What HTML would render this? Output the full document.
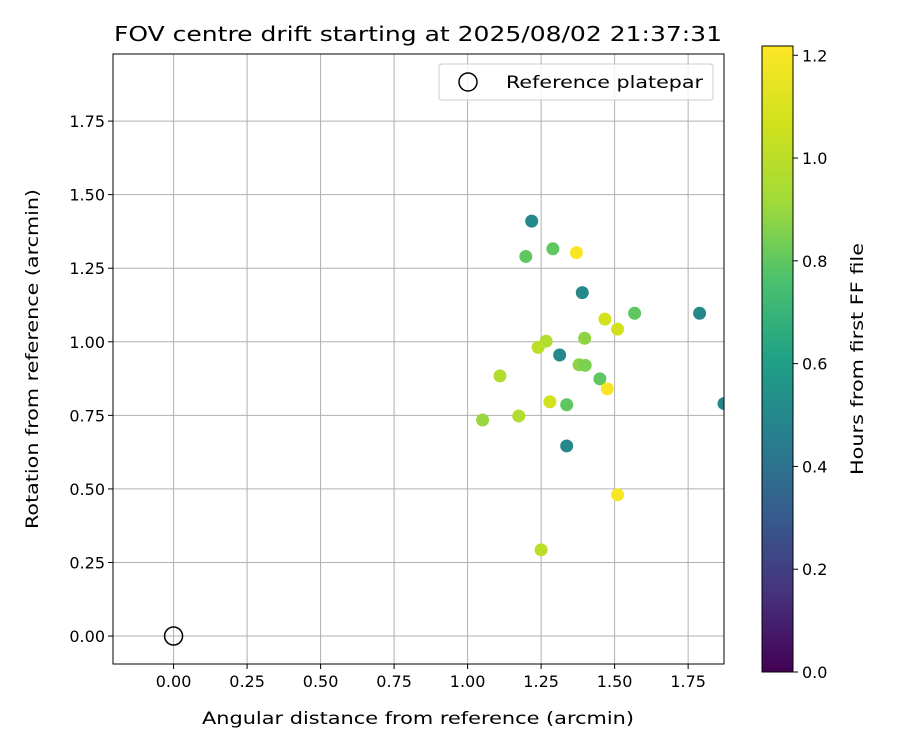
<!DOCTYPE html>
<html><head><meta charset="utf-8"><style>
body{margin:0;background:#fff;font-family:"DejaVu Sans","Liberation Sans",sans-serif;}
svg text{font-family:"DejaVu Sans","Liberation Sans",sans-serif;fill:#000;}
</style></head><body>
<svg id="chart" width="900" height="750" xmlns="http://www.w3.org/2000/svg">
<rect width="900" height="750" fill="#fff"/>
<text x="418" y="41" style="font-size:20px" text-anchor="middle" textLength="608" lengthAdjust="spacingAndGlyphs">FOV centre drift starting at 2025/08/02 21:37:31</text>
<g id="grid"></g>
<g id="ticks"></g>
<g id="pts"></g>
<rect x="113" y="54" width="611" height="610" fill="none" stroke="#000" stroke-width="1"/>
<text x="418" y="724" style="font-size:17px" text-anchor="middle" textLength="432" lengthAdjust="spacingAndGlyphs">Angular distance from reference (arcmin)</text>
<text transform="translate(38,359) rotate(-90)" style="font-size:17px" text-anchor="middle" textLength="340" lengthAdjust="spacingAndGlyphs">Rotation from reference (arcmin)</text>
<g>
<rect x="439" y="64" width="274" height="36" rx="3" fill="#fff" fill-opacity="0.8" stroke="#ccc"/>
<circle cx="468" cy="82" r="9" fill="none" stroke="#000" stroke-width="1.5"/>
<text x="506" y="88" style="font-size:17px" textLength="197" lengthAdjust="spacingAndGlyphs">Reference platepar</text>
</g>
<defs><linearGradient id="vir" x1="0" y1="1" x2="0" y2="0">
<stop offset="0" stop-color="#440154"/><stop offset="0.125" stop-color="#46327e"/><stop offset="0.25" stop-color="#365c8d"/><stop offset="0.375" stop-color="#277f8e"/><stop offset="0.5" stop-color="#1fa187"/><stop offset="0.625" stop-color="#4ac16d"/><stop offset="0.75" stop-color="#a0da39"/><stop offset="0.875" stop-color="#d0e11c"/><stop offset="1" stop-color="#fde725"/>
</linearGradient></defs>
<rect x="762" y="46" width="31" height="626" fill="url(#vir)" stroke="#000" stroke-width="1"/>
<g id="cbticks"></g>
<text transform="translate(863,359) rotate(-90)" style="font-size:17px" text-anchor="middle" textLength="232" lengthAdjust="spacingAndGlyphs">Hours from first FF file</text>
</svg>
<script>
const xVals=[1.218,1.198,1.29,1.37,1.39,1.568,1.789,1.467,1.51,1.267,1.24,1.398,1.313,1.379,1.40,1.45,1.475,1.11,1.28,1.337,1.051,1.174,1.337,1.51,1.25,1.872];
const yVals=[1.41,1.29,1.316,1.303,1.167,1.097,1.097,1.077,1.043,1.002,0.981,1.012,0.955,0.922,0.92,0.874,0.84,0.884,0.796,0.786,0.734,0.748,0.646,0.48,0.293,0.79];
const hours=[0.5,0.8,0.8,1.2,0.5,0.8,0.5,1.07,1.07,0.97,1.0,0.88,0.5,0.88,0.85,0.8,1.2,0.97,1.07,0.8,0.9,0.97,0.5,1.2,1.0,0.5];
const xTicks=[0,0.25,0.5,0.75,1,1.25,1.5,1.75];
const yTicks=[0,0.25,0.5,0.75,1,1.25,1.5,1.75];
const cTicks=[0,0.2,0.4,0.6,0.8,1.0,1.2];
const X0=113,X1=724,Y0=54,Y1=664,xmin=-0.206,xmax=1.872,ymin=-0.095,ymax=1.978,cmax=1.218;
const sx=v=>X0+(v-xmin)/(xmax-xmin)*(X1-X0);
const sy=v=>Y1-(v-ymin)/(ymax-ymin)*(Y1-Y0);
const sc=v=>672-v/cmax*626;
const NS="http://www.w3.org/2000/svg";
const stops=[[68,1,84],[70,50,126],[54,92,141],[39,127,142],[31,161,135],[74,193,109],[160,218,57],[208,225,28],[253,231,37]];
function vir(t){t=Math.max(0,Math.min(1,t))*8;const i=Math.min(7,Math.floor(t)),f=t-i;const a=stops[i],b=stops[i+1];return `rgb(${a.map((c,k)=>Math.round(c+(b[k]-c)*f)).join(',')})`;}
function mk(tag,attrs,parent){const e=document.createElementNS(NS,tag);for(const k in attrs)e.setAttribute(k,attrs[k]);parent.appendChild(e);return e;}
const grid=document.getElementById('grid'),ticks=document.getElementById('ticks'),pts=document.getElementById('pts'),cb=document.getElementById('cbticks');
xTicks.forEach(v=>{const x=sx(v);
const g=mk('line',{x1:x,x2:x,y1:Y0,y2:Y1,stroke:'#b0b0b0','stroke-width':1},grid);


const t=mk('line',{x1:x,x2:x,y1:Y1,y2:Y1+5,stroke:'#000'},ticks);


const l=mk('text',{x:x,y:Y1+23,style:'font-size:16px','text-anchor':'middle'},ticks);l.textContent=v.toFixed(2);

});
yTicks.forEach(v=>{const y=sy(v);
const g=mk('line',{x1:X0,x2:X1,y1:y,y2:y,stroke:'#b0b0b0','stroke-width':1},grid);


const t=mk('line',{x1:X0-5,x2:X0,y1:y,y2:y,stroke:'#000'},ticks);


const l=mk('text',{x:X0-8,y:y+6,style:'font-size:16px','text-anchor':'end'},ticks);l.textContent=v.toFixed(2);

});
const clip=mk('clipPath',{id:'pc'},pts);mk('rect',{x:X0,y:Y0,width:X1-X0,height:Y1-Y0},clip);
pts.setAttribute('clip-path','url(#pc)');
xVals.forEach((v,i)=>{const c=mk('circle',{cx:sx(v),cy:sy(yVals[i]),r:6.5,fill:vir(hours[i]/cmax)},pts);

});
const ref=mk('circle',{cx:sx(0),cy:sy(0),r:9,fill:'none',stroke:'#000','stroke-width':1.5},pts);


cTicks.forEach(v=>{const y=sc(v);
const t=mk('line',{x1:793,x2:798,y1:y,y2:y,stroke:'#000'},cb);


const l=mk('text',{x:802,y:y+6,style:'font-size:16px'},cb);l.textContent=v.toFixed(1);

});
</script>
</body></html>
